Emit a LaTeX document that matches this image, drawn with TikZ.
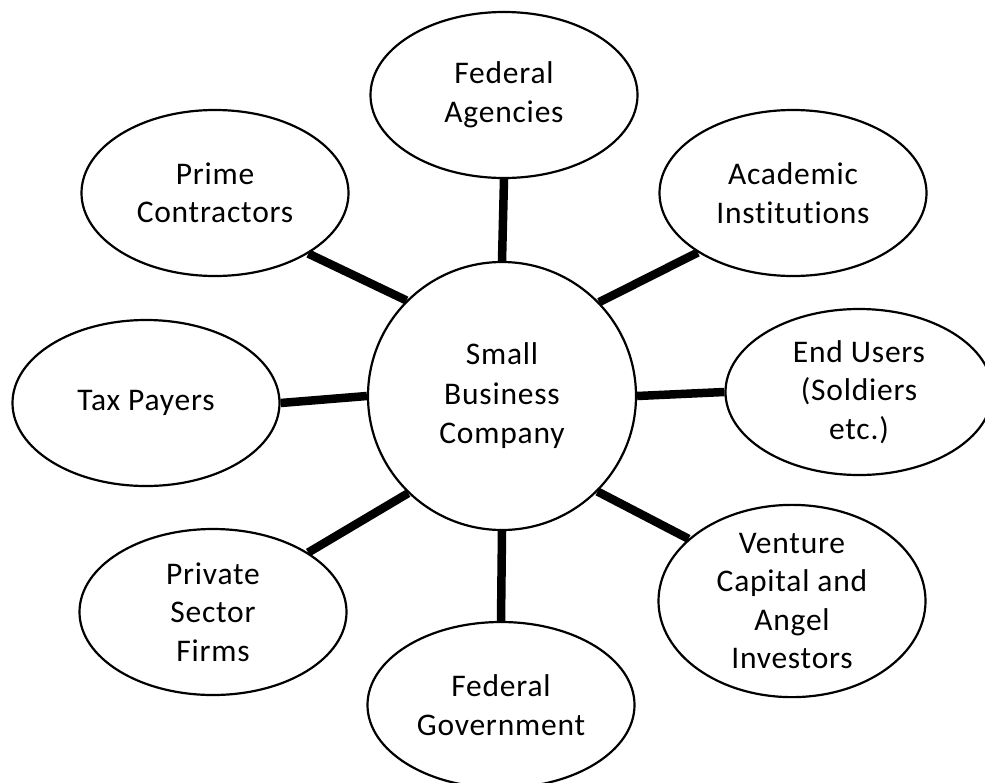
\documentclass[tikz,border=0pt]{standalone}
\usepackage{fontspec}
\setmainfont{Carlito}[LetterSpace=2.5, Ligatures={NoCommon}]
\usetikzlibrary{shapes.geometric}
\begin{document}
\begin{tikzpicture}[x=1pt,y=-1pt,
  party/.style={ellipse, draw, line width=2.2pt, fill=white, inner sep=0pt,
    minimum width=267pt, minimum height=166pt, align=center,
    font=\fontsize{31.5}{38.5}\selectfont},
  hub/.style={circle, draw, line width=2.2pt, fill=white, inner sep=0pt,
    minimum size=268pt, align=center, font=\fontsize{31.5}{39.5}\selectfont},
  link/.style={line width=8.5pt}]
\useasboundingbox (0,0) rectangle (985,782);
% central company
\node[hub] (c) at (502,396) {Small\\Business\\Company};
% surrounding partners
\node[party] (fa) at (504,95)  {Federal\\Agencies};
\node[party] (pc) at (215,193) {Prime\\Contractors};
\node[party] (ai) at (793,193) {Academic\\Institutions};
\node[party] (tp) at (146,403) {Tax Payers};
\node[party] (eu) at (859,392) {End Users\\(Soldiers\\etc.)};
\node[party] (ps) at (213,612) {Private\\Sector\\Firms};
\node[party] (fg) at (501,705) {Federal\\Government};
\node[party] (vc) at (792,601) {Venture\\Capital and\\Angel\\Investors};
% connections to the company
\begin{scope}[link]
\draw (fa.-90) -- (c.90);
\draw (pc.-33) -- (c.135);
\draw (ai.-148) -- (c.44);
\draw (tp.0) -- (c.180);
\draw (eu.180) -- (c.0);
\draw (ps.32) -- (c.-134);
\draw (vc.149) -- (c.-45);
\draw (fg.90) -- (c.-90);
\end{scope}
\end{tikzpicture}
\end{document}
